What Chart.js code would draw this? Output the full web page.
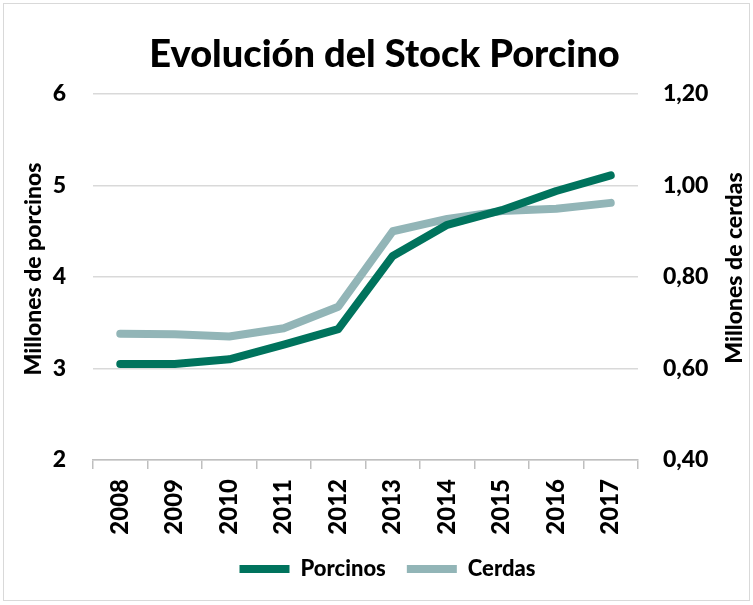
<!DOCTYPE html>
<html lang="es">
<head>
<meta charset="utf-8">
<title>Evolución del Stock Porcino</title>
<script src="https://cdn.jsdelivr.net/npm/chart.js@4.4.1/dist/chart.umd.min.js"></script>
<style>
    html, body { margin: 0; padding: 0; background: #fff; }
    .chart-wrap { position: relative; width: 753px; height: 605px; }
    .chart-frame {
        position: absolute; left: 3px; top: 3px; width: 745px; height: 596px;
        border: 1px solid #d9d9d9; pointer-events: none;
    }
</style>
</head>
<body>
<div class="chart-wrap">
    <canvas id="stockChart" width="753" height="605"></canvas>
    <div class="chart-frame"></div>
</div>
<script>
// ==================== DATA ====================

const years = ['2008', '2009', '2010', '2011', '2012', '2013', '2014', '2015', '2016', '2017'];
const porcinos = [3.05, 3.05, 3.10, 3.26, 3.43, 4.23, 4.57, 4.73, 4.94, 5.11];   // millones
const cerdas = [0.676, 0.675, 0.670, 0.688, 0.735, 0.900, 0.927, 0.944, 0.949, 0.962]; // millones

const titleText = 'Evolución del Stock Porcino';
const leftTitle = 'Millones de porcinos';
const rightTitle = 'Millones de cerdas';

const darkGreen = '#00735d';
const lightTeal = '#92b5b7';
const gridGray = '#d9d9d9';
const fontFamily = 'Lato, "Open Sans", sans-serif';
const heavy = '900';

// ==================== SMALL PLUGINS ====================

// nudge title and legend a bit right, like the original
const blockShift = {
    id: 'blockShift',
    afterLayout(chart) {
        if (chart.legend) {
            chart.legend.left += 11;
            chart.legend.right += 11;
        }
        if (chart.titleBlock) {
            chart.titleBlock.left += 8;
            chart.titleBlock.right += 8;
        }
    }
};

// both axis titles read bottom-to-top in the original
const axisTitles = {
    id: 'axisTitles',
    afterDraw(chart) {
        const c = chart.ctx;
        const drawTitle = (text, x, y) => {
            c.save();
            c.translate(x, y);
            c.rotate(-Math.PI / 2);
            c.font = heavy + ' 23px ' + fontFamily;
            c.fillStyle = '#000';
            c.textAlign = 'center';
            c.textBaseline = 'middle';
            c.fillText(text, 0, 0);
            c.restore();
        };
        drawTitle(leftTitle, 34, 269);
        drawTitle(rightTitle, 735, 268);
    }
};

// ==================== SETUP CHART ====================

const ctx = document.getElementById('stockChart');

new Chart(ctx, {
    type: 'line',
    data: {
        labels: years,
        datasets: [{
            label: 'Porcinos',
            data: porcinos,
            yAxisID: 'y',
            borderColor: darkGreen,
            backgroundColor: darkGreen,
            borderWidth: 8,
            borderCapStyle: 'round',
            borderJoinStyle: 'round',
            pointRadius: 0,
            pointHoverRadius: 0,
            pointStyle: 'line',
            tension: 0
        },
        {
            label: 'Cerdas',
            data: cerdas,
            yAxisID: 'y1',
            borderColor: lightTeal,
            backgroundColor: lightTeal,
            borderWidth: 8,
            borderCapStyle: 'round',
            borderJoinStyle: 'round',
            pointRadius: 0,
            pointHoverRadius: 0,
            pointStyle: 'line',
            tension: 0
        }]
    },
    options: {
        responsive: false,
        animation: false,
        layout: { padding: { left: 0, right: 0, top: 0, bottom: 15 } },
        plugins: {
            title: {
                display: true,
                text: titleText,
                color: '#000',
                font: { family: fontFamily, size: 38, weight: heavy, lineHeight: 1.2 },
                padding: { top: 32, bottom: 16.4 }
            },
            legend: {
                position: 'bottom',
                labels: {
                    usePointStyle: true,
                    pointStyleWidth: 50,
                    color: '#000',
                    font: { family: fontFamily, size: 22, weight: heavy },
                    padding: 21
                }
            },
            tooltip: { enabled: false }
        },
        scales: {
            x: {
                offset: true,
                grid: {
                    display: true,
                    offset: true,
                    drawOnChartArea: false,
                    drawTicks: true,
                    tickLength: 9,
                    color: '#bfbfbf',
                    lineWidth: 1.5
                },
                border: { display: true, color: '#bfbfbf', width: 1.5 },
                ticks: {
                    color: '#000',
                    font: { family: fontFamily, size: 24, weight: heavy },
                    minRotation: 90,
                    maxRotation: 90,
                    padding: 10
                },
                afterFit(scale) { scale.height = 77; }
            },
            y: {
                position: 'left',
                min: 2,
                max: 6,
                ticks: {
                    stepSize: 1,
                    color: '#000',
                    font: { family: fontFamily, size: 23, weight: heavy },
                    padding: 27
                },
                grid: { color: gridGray, lineWidth: 1.5, drawTicks: false },
                border: { display: false },
                title: { display: false },
                afterFit(scale) { scale.width = 93; }
            },
            y1: {
                position: 'right',
                min: 0.4,
                max: 1.2,
                ticks: {
                    stepSize: 0.2,
                    color: '#000',
                    font: { family: fontFamily, size: 23, weight: heavy },
                    padding: 25,
                    callback: (value) => value.toFixed(2).replace('.', ',')
                },
                grid: { drawOnChartArea: false, drawTicks: false },
                border: { display: false },
                title: { display: false },
                afterFit(scale) { scale.width = 115; }
            }
        }
    },
    plugins: [blockShift, axisTitles]
});
</script>
</body>
</html>
